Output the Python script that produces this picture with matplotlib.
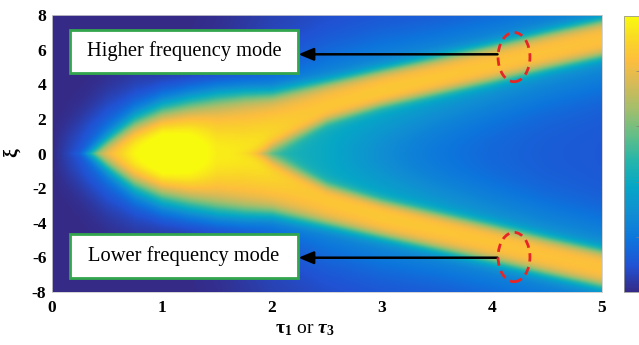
import numpy as np
import matplotlib.pyplot as plt
from matplotlib.colors import LinearSegmentedColormap
from matplotlib.patches import Rectangle, Ellipse

plt.rcParams['font.family'] = 'Liberation Serif'
plt.rcParams['axes.unicode_minus'] = False
plt.rcParams['mathtext.fontset'] = 'custom'
plt.rcParams['mathtext.rm'] = 'Liberation Serif:bold'
plt.rcParams['mathtext.it'] = 'Liberation Serif:italic:bold'
plt.rcParams['mathtext.bf'] = 'Liberation Serif:bold'

# ridge description along tau (two symmetric branches at +/- ridge_xi)
tau_s = [0.0, 0.25, 0.5, 0.75, 1.0, 1.25, 1.5, 1.75, 2.0, 2.5, 3.0, 3.5, 4.0, 4.5, 5.0]
ridge_xi = [0, 0, 0, 0, 0, 0.2, 0.7, 1.3, 1.9, 3.0, 3.8, 4.5, 5.2, 5.95, 6.65]
band_half = [-1.0, -0.5, 0.7, 1.8, 2.55, 2.8, 2.65, 2.15, 1.55, 1.1, 1.0, 1.0, 1.0, 1.0, 1.0]
band_edge = [0.15, 0.2, 0.32, 0.45, 0.5, 0.5, 0.46, 0.38, 0.3, 0.22, 0.2, 0.2, 0.2, 0.2, 0.2]
band_amp = [0.6, 0.6, 0.64, 0.68, 0.7, 0.68, 0.64, 0.6, 0.56, 0.54, 0.54, 0.54, 0.54, 0.54, 0.54]
core_boost = [0, 0, 0.02, 0.1, 0.15, 0.12, 0.04, 0, 0, 0, 0, 0, 0, 0, 0]
halo_amp = [0.0, 0.05, 0.1, 0.11, 0.12, 0.13, 0.14, 0.17, 0.2, 0.22, 0.23, 0.23, 0.23, 0.23, 0.23]
halo_w = [1.0, 1.5, 2.0, 2.4, 2.4, 2.4, 2.4, 2.4, 2.3, 2.2, 2.1, 2.0, 2.0, 2.0, 2.0]
inner_fill = [0, 0, 0, 0, 0, 0, 0.03, 0.08, 0.12, 0.15, 0.12, 0.09, 0.06, 0.04, 0.03]
base = [0, 0, 0, 0, 0, 0, 0.01, 0.03, 0.05, 0.07, 0.08, 0.08, 0.08, 0.08, 0.08]

x_ticks = [0, 1, 2, 3, 4, 5]
y_ticks = [-8, -6, -4, -2, 0, 2, 4, 6, 8]
labels = ['Higher frequency mode', 'Lower frequency mode']

# parula-like colormap
parula = LinearSegmentedColormap.from_list('parula', [
    (0.000, (0.2081, 0.1663, 0.5292)),
    (0.095, (0.1253, 0.3242, 0.8303)),
    (0.190, (0.0498, 0.4586, 0.8641)),
    (0.286, (0.0641, 0.5570, 0.8240)),
    (0.381, (0.0228, 0.6535, 0.7768)),
    (0.476, (0.1453, 0.7098, 0.6646)),
    (0.571, (0.3953, 0.7459, 0.5244)),
    (0.667, (0.6473, 0.7456, 0.4188)),
    (0.762, (0.8507, 0.7299, 0.3360)),
    (0.841, (0.9938, 0.7455, 0.2403)),
    (0.905, (0.9789, 0.8271, 0.1633)),
    (1.000, (0.9763, 0.9831, 0.0538)),
])

tau = np.linspace(0, 5, 500)
xi = np.linspace(-8, 8, 400)
T, X = np.meshgrid(tau, xi)
prm = {k: np.interp(T, tau_s, v) for k, v in [
    ('c', ridge_xi), ('hb', band_half), ('s', band_edge), ('a', band_amp),
    ('b', core_boost), ('ha', halo_amp), ('hw', halo_w), ('f', inner_fill), ('bg', base)]}

ax_abs = np.abs(X)
d_near = np.abs(ax_abs - prm['c'])
d_far = ax_abs + prm['c']
band = prm['a'] / (1 + np.exp((d_near - prm['hb']) / prm['s']))
halo = prm['ha'] * (np.exp(-d_near ** 2 / (2 * prm['hw'] ** 2))
                    + np.exp(-d_far ** 2 / (2 * prm['hw'] ** 2)))
fill = prm['f'] / (1 + np.exp((ax_abs - prm['c'] + 0.8) / 0.5))
boost = prm['b'] * np.exp(-X ** 2 / (2 * 1.6 ** 2))
Z = np.clip(prm['bg'] + band + halo + fill + boost, 0, 1)

fig = plt.figure(figsize=(6.39, 3.45), dpi=100)
ax = fig.add_axes([52 / 639, 1 - 292 / 345, 550 / 639, 277 / 345])
im = ax.imshow(Z, extent=[0, 5, -8, 8], origin='lower', aspect='auto',
               cmap=parula, vmin=0, vmax=1, interpolation='bilinear')
ax.set_xlim(0, 5)
ax.set_ylim(-8, 8)
ax.set_xticks(x_ticks)
ax.set_yticks(y_ticks)
ax.tick_params(length=0, labelsize=12.5)
ax.tick_params(axis='x', pad=6)
ax.tick_params(axis='y', pad=4)
for t in ax.get_xticklabels() + ax.get_yticklabels():
    t.set_fontweight('bold')
for s in ax.spines.values():
    s.set_color('0.8')
    s.set_linewidth(0.6)

green = (0.2, 0.65, 0.3)
red = (0.9, 0.15, 0.15)

# label boxes, arrows and dashed ellipses
boxes = [(0.164, 4.65, 2.48), (0.164, -7.2, 2.54)]
arrow_y = [5.73, -6.02]
ell_y = [5.57, -5.98]
for lab, (bx, by, bh), ay, ey in zip(labels, boxes, arrow_y, ell_y):
    ax.add_patch(Rectangle((bx, by), 2.07, bh, facecolor='white',
                           edgecolor=green, lw=2, zorder=3))
    ax.text(bx + 1.035, by + bh / 2, lab, ha='center', va='center',
            fontsize=14.8, zorder=4)
    ax.annotate('', xy=(2.24, ay), xytext=(4.05, ay),
                arrowprops=dict(arrowstyle='-|>,head_length=0.6,head_width=0.25',
                                color='black', lw=1.8, mutation_scale=15,
                                shrinkA=0, shrinkB=0), zorder=4)
    ax.add_patch(Ellipse((4.2, ey), 0.29, 2.85, fill=False, edgecolor=red,
                         lw=2, linestyle=(0, (3, 2)), zorder=4))

fig.text(305 / 639, 1 - 329 / 345, r'$\mathrm{\tau_1}$ or $\tau_3$',
         ha='center', va='center', fontsize=14)
fig.text(12 / 639, 1 - 153 / 345, 'ξ', rotation=90, ha='center', va='center',
         fontsize=14, fontweight='bold')

cax = fig.add_axes([624 / 639, 1 - 292 / 345, 15 / 639, 276 / 345])
cb = fig.colorbar(im, cax=cax)
cb.set_ticks([0.2, 0.4, 0.6, 0.8])
cb.ax.tick_params(direction='in', length=2, labelright=False, color='0.5', width=0.5)
cb.outline.set_edgecolor('0.6')
cb.outline.set_linewidth(0.6)

fig.savefig('out.png', dpi=100)
